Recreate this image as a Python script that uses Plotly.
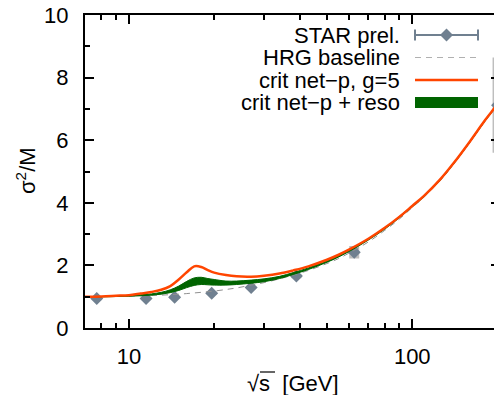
import plotly.graph_objects as go
import math

# ---------------- data ----------------
star_x = [7.7, 11.5, 14.5, 19.6, 27.0, 39.0, 62.4, 200.0]
star_y = [0.94, 0.94, 0.98, 1.11, 1.29, 1.66, 2.42, 7.12]
star_stat = [0.03, 0.03, 0.03, 0.03, 0.03, 0.03, 0.04, 0.08]
star_sys = [0.05, 0.05, 0.05, 0.05, 0.05, 0.07, 0.20, 1.52]

curve_x = [7, 8, 9, 10, 11, 12, 13, 14, 15, 16, 17, 18, 19, 20, 22, 24, 27, 30,
           34, 38, 43, 50, 55, 60, 70, 80, 90, 100, 110, 125, 140, 160, 180, 200, 205]
hrg_y = [1.00, 1.005, 1.01, 1.02, 1.03, 1.04, 1.05, 1.065, 1.08, 1.10, 1.12, 1.14,
         1.16, 1.18, 1.23, 1.28, 1.37, 1.45, 1.57, 1.69, 1.84, 2.06, 2.22, 2.40,
         2.75, 3.12, 3.48, 3.85, 4.18, 4.70, 5.25, 5.95, 6.60, 7.15, 7.30]
crit_y = [1.00, 1.01, 1.03, 1.05, 1.10, 1.15, 1.22, 1.34, 1.55, 1.78, 1.97, 1.95,
          1.85, 1.77, 1.69, 1.65, 1.64, 1.67, 1.74, 1.84, 1.97, 2.18, 2.34, 2.51,
          2.85, 3.20, 3.55, 3.90, 4.22, 4.73, 5.27, 5.97, 6.62, 7.16, 7.32]
reso_hi = [1.00, 1.005, 1.015, 1.03, 1.06, 1.09, 1.14, 1.22, 1.34, 1.49, 1.60, 1.62,
           1.58, 1.55, 1.50, 1.50, 1.53, 1.57, 1.65, 1.77, 1.92, 2.14, 2.31, 2.49,
           2.85, 3.20, 3.56, 3.91, 4.23, 4.74, 5.28, 5.98, 6.63, 7.17, 7.33]
reso_lo = [0.99, 0.995, 1.005, 1.015, 1.03, 1.05, 1.08, 1.13, 1.20, 1.29, 1.36, 1.39,
           1.38, 1.37, 1.37, 1.39, 1.43, 1.48, 1.58, 1.71, 1.87, 2.10, 2.27, 2.45,
           2.81, 3.16, 3.52, 3.87, 4.19, 4.70, 5.24, 5.94, 6.59, 7.13, 7.29]

x_ticks = [10, 100]
x_minor = [8, 9, 20, 30, 40, 50, 60, 70, 80, 90, 200]
legend_labels = ["STAR prel.", "HRG baseline", "crit net\u2212p, g=5", "crit net\u2212p + reso"]

SLATE = "#708090"
ORANGE = "#ff4500"
GREEN = "#006400"
FONT = "Liberation Sans, Arial, Helvetica, sans-serif"
FS = 22

# page offset (default body margin of the html page)
OX, OY = 8, 8
# plot area in page pixels
L, R, T, B = 85, 500, 15, 328
W, H = 502 - OX, 395 - OY

def px(xp):
    return (xp - L) / (R - L)

def py(yp):
    return (B - yp) / (B - T)

fig = go.Figure()

# systematic boxes
fig.add_trace(go.Scatter(
    x=star_x, y=star_y, mode="markers", marker=dict(size=1, opacity=0),
    error_y=dict(type="data", array=star_sys, width=0, thickness=10, color="#bebebe"),
    showlegend=False, cliponaxis=False, hoverinfo="skip"))
# STAR points
fig.add_trace(go.Scatter(
    x=star_x, y=star_y, mode="markers",
    marker=dict(symbol="diamond", size=10, color=SLATE, line=dict(width=0)),
    error_y=dict(type="data", array=star_stat, width=3, thickness=1.5, color=SLATE),
    showlegend=False, cliponaxis=False))
# HRG baseline
fig.add_trace(go.Scatter(
    x=curve_x, y=hrg_y, mode="lines", line=dict(color="#909090", width=1, dash="6px,5px", shape="spline"),
    showlegend=False))
# reso band
fig.add_trace(go.Scatter(
    x=curve_x, y=reso_lo, mode="lines", line=dict(color=GREEN, width=1, shape="spline"),
    showlegend=False))
fig.add_trace(go.Scatter(
    x=curve_x, y=reso_hi, mode="lines", line=dict(color=GREEN, width=1, shape="spline"),
    fill="tonexty", fillcolor=GREEN, showlegend=False))
# critical
fig.add_trace(go.Scatter(
    x=curve_x, y=crit_y, mode="lines", line=dict(color=ORANGE, width=2.5, shape="spline"),
    showlegend=False))

# ---------------- manual legend (on pixel-like overlay axes) ----------------
rows = [35, 57.5, 80, 102.5]
sx0, sx1, smid = 415, 478, 446.5
fig.add_trace(go.Scatter(x=[sx0, sx1], y=[rows[0], rows[0]], xaxis="x2", yaxis="y2", mode="lines",
                         line=dict(color=SLATE, width=2), showlegend=False, hoverinfo="skip"))
for cx in (sx0, sx1):
    fig.add_trace(go.Scatter(x=[cx, cx], y=[rows[0] - 5.5, rows[0] + 5.5], xaxis="x2", yaxis="y2",
                             mode="lines", line=dict(color=SLATE, width=2), showlegend=False, hoverinfo="skip"))
fig.add_trace(go.Scatter(x=[smid], y=[rows[0]], xaxis="x2", yaxis="y2", mode="markers",
                         marker=dict(symbol="diamond", size=10, color=SLATE), showlegend=False, hoverinfo="skip"))
fig.add_trace(go.Scatter(x=[sx0, sx1], y=[rows[1], rows[1]], xaxis="x2", yaxis="y2", mode="lines",
                         line=dict(color="#b0b0b0", width=1, dash="6px,5px"), showlegend=False, hoverinfo="skip"))
fig.add_trace(go.Scatter(x=[sx0, sx1], y=[rows[2], rows[2]], xaxis="x2", yaxis="y2", mode="lines",
                         line=dict(color=ORANGE, width=2.5), showlegend=False, hoverinfo="skip"))
fig.add_trace(go.Scatter(x=[sx0, sx1], y=[rows[3], rows[3]], xaxis="x2", yaxis="y2", mode="lines",
                         line=dict(color=GREEN, width=11), showlegend=False, hoverinfo="skip"))

annotations = []
for lab, ry in zip(legend_labels, rows):
    annotations.append(dict(text=lab, x=402, y=ry, xref="x2", yref="y2", xanchor="right",
                            yanchor="middle", showarrow=False, font=dict(size=FS, family=FONT, color="black")))
# axis titles
annotations.append(dict(text="\u221as  [GeV]", x=px(293), y=py(383), xref="paper", yref="paper",
                        xanchor="center", yanchor="middle", showarrow=False,
                        font=dict(size=FS, family=FONT, color="black")))
annotations.append(dict(text="\u03c3<sup>2</sup>/M", x=px(26), y=py(171), xref="paper", yref="paper",
                        xanchor="center", yanchor="middle", showarrow=False, textangle=-90,
                        font=dict(size=FS, family=FONT, color="black")))

shapes = [dict(type="line", xref="paper", yref="paper", x0=px(260), x1=px(275), y0=py(372), y1=py(372),
               line=dict(color="black", width=1.2))]

fig.update_layout(
    width=W, height=H,
    margin=dict(l=L - OX, r=W - (R - OX), t=T - OY, b=H - (B - OY), autoexpand=False),
    paper_bgcolor="white", plot_bgcolor="white",
    font=dict(family=FONT, size=FS, color="black"),
    annotations=annotations, shapes=shapes,
    xaxis=dict(
        type="log", range=[math.log10(7), math.log10(204)], automargin=False,
        tickmode="array", tickvals=x_ticks, ticktext=[str(v) for v in x_ticks],
        ticks="inside", ticklen=9, tickwidth=1.5, tickcolor="black",
        minor=dict(tickvals=x_minor, ticks="inside", ticklen=5, tickwidth=1.5, tickcolor="black", showgrid=False),
        showline=True, linewidth=2, linecolor="black", mirror="allticks",
        showgrid=False, zeroline=False, ticklabelstandoff=8, ticklabeloverflow="allow",
    ),
    yaxis=dict(
        range=[0, 10], dtick=2, tick0=0, automargin=False,
        ticks="inside", ticklen=9, tickwidth=1.5, tickcolor="black",
        minor=dict(dtick=1, ticks="inside", ticklen=5, tickwidth=1.5, tickcolor="black", showgrid=False),
        showline=True, linewidth=2, linecolor="black", mirror="allticks",
        showgrid=False, zeroline=False, ticklabelstandoff=10, ticklabeloverflow="allow",
    ),
    xaxis2=dict(overlaying="x", range=[85, 500], visible=False, fixedrange=True),
    yaxis2=dict(overlaying="y", range=[328, 15], visible=False, fixedrange=True),
)

fig.write_html("out.html")
